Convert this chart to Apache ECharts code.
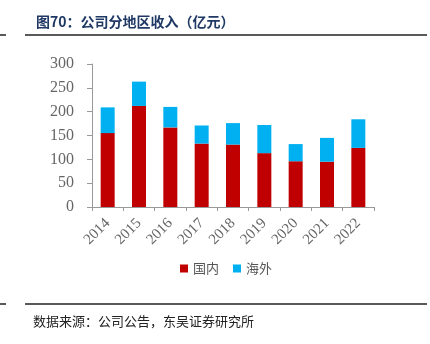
<!DOCTYPE html>
<html><head><meta charset="utf-8">
<script src="https://cdn.jsdelivr.net/npm/echarts@6/dist/echarts.min.js"></script>
<style>html,body{margin:0;padding:0;background:#fff}#c{width:430px;height:344px}</style>
</head><body><div id="c"></div>
<script>
const years = ['2014','2015','2016','2017','2018','2019','2020','2021','2022'];
const domestic = [155, 212, 167, 133, 131, 113, 96, 95, 124];
const overseas = [54, 51, 43, 38, 45, 59, 36, 50, 60];
const yTicks = [0, 50, 100, 150, 200, 250, 300];

const chart = echarts.init(document.getElementById('c'), null, {renderer:'canvas'});
const serif = '"Liberation Serif","DejaVu Serif",serif';
const cjk = '"Noto Sans CJK SC","Noto Sans",sans-serif';
chart.setOption({
  animation:false,
  backgroundColor:'#fff',
  title:{text:'图70：公司分地区收入（亿元）', left:31, top:10,
    textStyle:{fontSize:14, fontWeight:'bold', color:'#1F3864', fontFamily:cjk}},
  graphic:[
    {type:'line', shape:{x1:0,y1:35,x2:6,y2:35}, style:{stroke:'#222',lineWidth:1.5}},
    {type:'line', shape:{x1:25,y1:35,x2:427,y2:35}, style:{stroke:'#222',lineWidth:1.5}},
    {type:'line', shape:{x1:0,y1:304,x2:6,y2:304}, style:{stroke:'#222',lineWidth:1.5}},
    {type:'line', shape:{x1:25,y1:304,x2:427,y2:304}, style:{stroke:'#222',lineWidth:1.5}},
    {type:'text', left:33, top:315, style:{text:'数据来源：公司公告，东吴证券研究所', fontSize:13, fill:'#222', fontFamily:cjk}}
  ],
  legend:{data:['国内','海外'], top:257, left:175, itemWidth:8, itemHeight:8, itemGap:14,
    icon:'rect', textStyle:{fontSize:13, color:'#555', fontFamily:cjk}},
  grid:{left:92, right:56, top:64, bottom:137},
  xAxis:{type:'category', data:years,
    axisLine:{lineStyle:{color:'#999'}},
    axisTick:{show:true, length:4, lineStyle:{color:'#999'}},
    axisLabel:{rotate:45, fontSize:15, color:'#666', fontFamily:serif, margin:14}},
  yAxis:{type:'value', min:0, max:300, interval:50,
    splitLine:{show:false},
    axisLine:{show:true, lineStyle:{color:'#999'}},
    axisTick:{show:true, length:5, lineStyle:{color:'#999'}},
    axisLabel:{fontSize:16, color:'#666', fontFamily:serif, margin:18,
      formatter:v=>yTicks.includes(v)?String(v):''}},
  series:[
    {name:'国内', type:'bar', stack:'a', data:domestic, barWidth:14, itemStyle:{color:'#C00000'}},
    {name:'海外', type:'bar', stack:'a', data:overseas, barWidth:14, itemStyle:{color:'#00B0F0'}}
  ]
});
</script></body></html>
